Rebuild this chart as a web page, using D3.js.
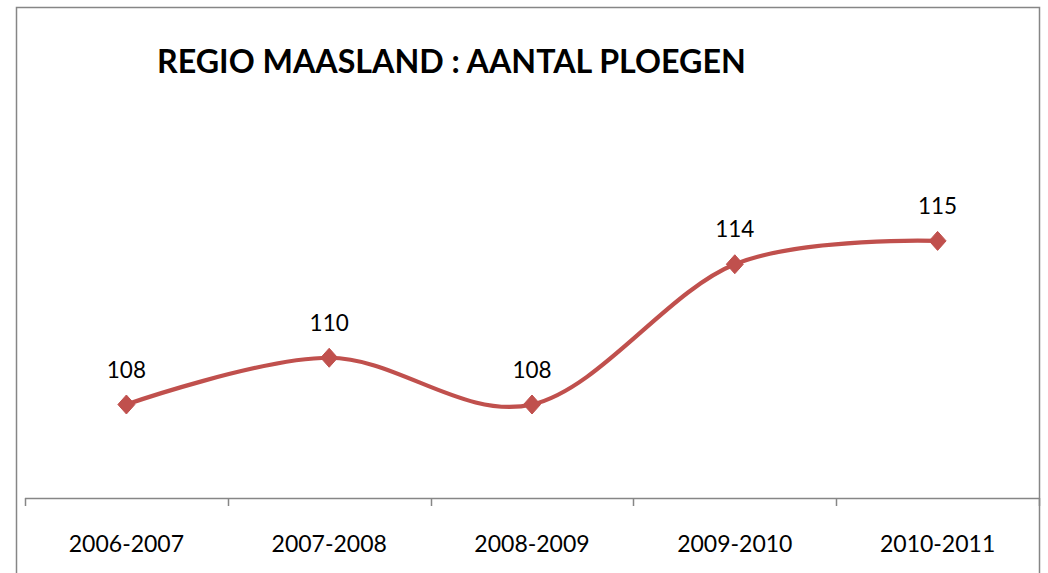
<!DOCTYPE html>
<html><head><meta charset="utf-8">
<script src="https://cdn.jsdelivr.net/npm/d3@7/dist/d3.min.js"></script>
<style>html,body{margin:0;padding:0;background:#fff;overflow:hidden}</style>
</head><body>
<svg id="c" width="1048" height="573"></svg>
<script>
const categories = ["2006-2007","2007-2008","2008-2009","2009-2010","2010-2011"];
const values = [108,110,108,114,115];
const yDomain = [104,120];
const title = "REGIO MAASLAND : AANTAL PLOEGEN";

const W=1048,H=573;
const svg=d3.select("#c");
const lineColor="#C0504D", gray="#868686";
const font="Lato, 'Open Sans', sans-serif";

// outer border
svg.append("rect").attr("x",16.5).attr("y",7.5).attr("width",1023).attr("height",600)
  .attr("fill","#fff").attr("stroke",gray).attr("stroke-width",1.5);

const x=d3.scaleBand().domain(categories).range([25,1039]).paddingInner(0).paddingOuter(0);
const y=d3.scaleLinear().domain(yDomain).range([498,124]);

// axis line
const axisY=y(yDomain[0]);
svg.append("line").attr("x1",x.range()[0]).attr("x2",x.range()[1]).attr("y1",axisY+0.5).attr("y2",axisY+0.5)
  .attr("stroke",gray).attr("stroke-width",1.5);
const bounds=categories.map(c=>x(c)).concat([x.range()[1]]);
svg.selectAll("line.tick").data(bounds).join("line").attr("class","tick")
  .attr("x1",d=>Math.round(d)+0.5).attr("x2",d=>Math.round(d)+0.5)
  .attr("y1",axisY).attr("y2",axisY+8).attr("stroke",gray).attr("stroke-width",1.5);
svg.selectAll("text.cat").data(categories).join("text").attr("class","cat")
  .attr("x",d=>x(d)+x.bandwidth()/2).attr("y",552).attr("text-anchor","middle")
  .attr("font-family",font).attr("font-size",23).attr("fill","#000").text(d=>d);

// line
const pts=categories.map((c,i)=>[x(c)+x.bandwidth()/2,y(values[i])]);
svg.append("path").attr("d",d3.line().curve(d3.curveCatmullRom.alpha(0))(pts))
  .attr("fill","none").attr("stroke",lineColor).attr("stroke-width",4.2).attr("stroke-linejoin","round");
svg.selectAll("path.mk").data(pts).join("path").attr("class","mk")
  .attr("transform",d=>`translate(${d[0]},${d[1]})`)
  .attr("d","M0,-9.5L8.5,0L0,9.5L-8.5,0Z").attr("fill",lineColor).attr("stroke",lineColor).attr("stroke-width",1);
svg.selectAll("text.lbl").data(pts).join("text").attr("class","lbl")
  .attr("x",d=>d[0]).attr("y",d=>d[1]-27).attr("text-anchor","middle")
  .attr("font-family",font).attr("font-size",22.5).attr("fill","#000").text((d,i)=>values[i]);

// title
const t=svg.append("text").attr("x",157).attr("y",73).attr("font-family",font)
  .attr("font-weight","bold").attr("font-size",30).attr("fill","#000").text(title);
const len=t.node().getComputedTextLength();
t.attr("font-size",30*589/len);
</script>
</body></html>
